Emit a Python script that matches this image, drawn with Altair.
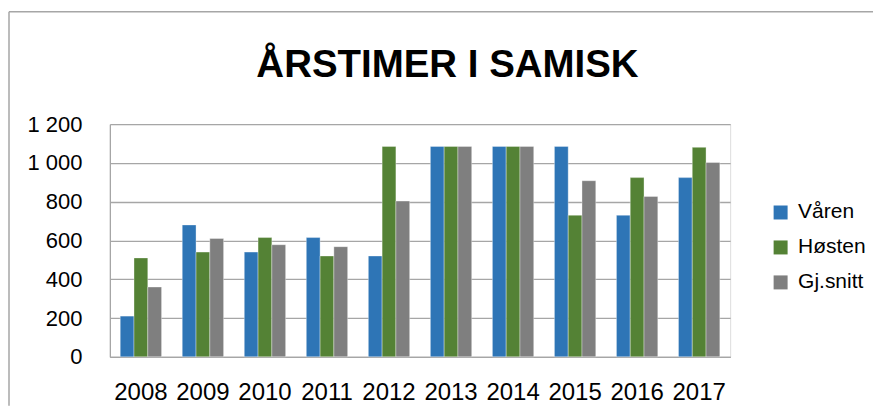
import altair as alt
import pandas as pd

years = ["2008", "2009", "2010", "2011", "2012", "2013", "2014", "2015", "2016", "2017"]
series = ["Våren", "Høsten", "Gj.snitt"]
varen = [210, 680, 540, 615, 520, 1085, 1085, 1085, 730, 924]
hosten = [510, 540, 615, 520, 1085, 1085, 1085, 730, 924, 1080]
snitt = [360, 610, 578, 568, 803, 1085, 1085, 908, 827, 1002]
colors = ["#2E75B6", "#548235", "#7F7F7F"]
title_text = "ÅRSTIMER I SAMISK"

rows = []
for name, vals in zip(series, [varen, hosten, snitt]):
    for y, v in zip(years, vals):
        rows.append({"År": y, "Serie": name, "Timer": v})
df = pd.DataFrame(rows)

FONT = "Liberation Sans"
GRID = "#A6A6A6"

bars = alt.Chart(df).mark_bar(stroke="white", strokeWidth=0.7, strokeOpacity=0.5).encode(
    x=alt.X("År:N", sort=years, title=None,
            scale=alt.Scale(paddingInner=1 / 3, paddingOuter=1 / 6),
            axis=alt.Axis(labelAngle=0, labelFontSize=24, labelPadding=24, ticks=False,
                          domainColor=GRID, domainWidth=1.3, labelColor="#000000",
                          labelFont=FONT)),
    xOffset=alt.XOffset("Serie:N", sort=series),
    y=alt.Y("Timer:Q", title=None,
            scale=alt.Scale(domain=[0, 1200], nice=False),
            axis=alt.Axis(values=[0, 200, 400, 600, 800, 1000, 1200], ticks=False,
                          labelExpr="replace(format(datum.value, ','), ',', ' ')",
                          labelFontSize=22, labelPadding=28, labelColor="#000000",
                          labelFont=FONT, grid=True, gridColor=GRID, gridWidth=1.3,
                          domain=True, domainColor=GRID, domainWidth=1.3)),
    color=alt.Color("Serie:N", sort=series,
                    scale=alt.Scale(domain=series, range=colors),
                    legend=alt.Legend(title=None, orient="none", legendX=661, legendY=78,
                                      symbolType="square", symbolSize=196,
                                      symbolStrokeWidth=0, labelFontSize=21,
                                      labelFont=FONT, labelColor="#000000",
                                      labelOffset=7, rowPadding=13, padding=0)),
)

title = alt.Chart(pd.DataFrame({"t": [title_text]})).mark_text(
    font=FONT, fontSize=38.5, fontWeight="bold", align="center", baseline="alphabetic",
    color="#000000"
).encode(x=alt.value(338), y=alt.value(-47), text="t:N")

border_top = alt.Chart(pd.DataFrame({"a": [0]})).mark_rule(
    stroke=GRID, strokeWidth=1.5
).encode(x=alt.value(-101), x2=alt.value(764), y=alt.value(-112.5))

border_left = alt.Chart(pd.DataFrame({"a": [0]})).mark_rule(
    stroke=GRID, strokeWidth=1.5
).encode(x=alt.value(-101), y=alt.value(-112.5), y2=alt.value(282))

chart = alt.layer(border_top, border_left, bars, title).properties(
    width=621, height=233,
    autosize=alt.AutoSizeParams(type="none"),
    padding={"left": 102, "top": 116, "right": 145, "bottom": 49},
).configure_view(stroke=None).configure(background="white")

chart.save("out.html", embed_options={"renderer": "svg", "actions": False})
